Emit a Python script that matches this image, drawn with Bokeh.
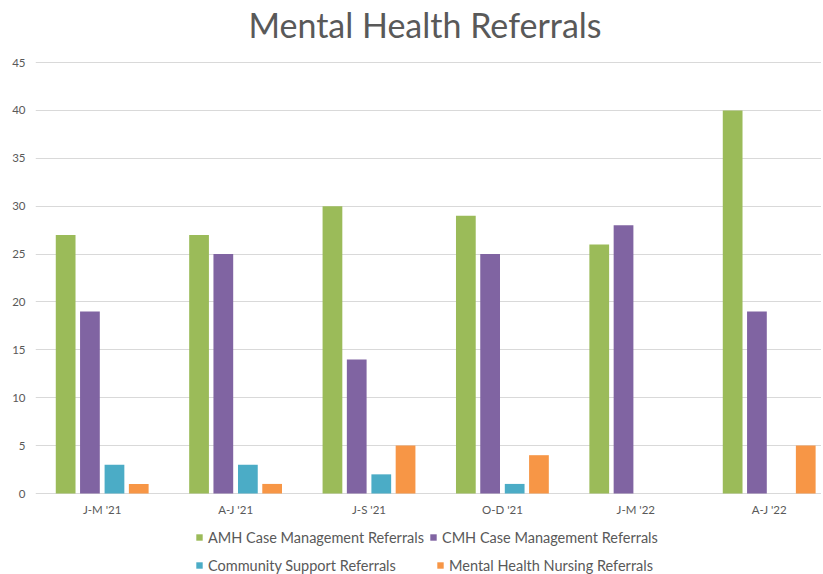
import numpy as np
from bokeh.plotting import figure
from bokeh.models import ColumnDataSource, Legend, LegendItem, Range1d, FixedTicker, Label
from bokeh.transform import dodge
from bokeh.core.properties import value
from bokeh.embed import file_html
from bokeh.resources import INLINE

categories = ["J-M '21", "A-J '21", "J-S '21", "O-D '21", "J-M '22", "A-J '22"]
amh = [27, 27, 30, 29, 26, 40]
cmh = [19, 25, 14, 25, 28, 19]
community = [3, 3, 2, 1, 0, 0]
nursing = [1, 1, 5, 4, 0, 5]
y_ticks = [0, 5, 10, 15, 20, 25, 30, 35, 40, 45]

series_names = ["AMH Case Management Referrals", "CMH Case Management Referrals",
                "Community Support Referrals", "Mental Health Nursing Referrals"]
colors = ["#9BBB59", "#8064A2", "#4BACC6", "#F79646"]
title_text = "Mental Health Referrals"

idx = list(range(len(categories)))
src = ColumnDataSource(dict(idx=idx, cat=categories, amh=amh, cmh=cmh,
                            community=community, nursing=nursing))

FONT = "Lato"
GRAY = "#595959"
FW, FH = 786, 574
CAT_PX = 133.4                     # pixel width of one category slot
PX_PER_UNIT = 431 / 45             # vertical pixels per value unit
ZERO_PX = 493                      # pixel row of value 0 from top

x_range = Range1d(-0.5, -0.5 + FW / CAT_PX)
y_range = Range1d(-(FH - ZERO_PX) / PX_PER_UNIT, ZERO_PX / PX_PER_UNIT)

p = figure(x_range=x_range, y_range=y_range, x_axis_location=None,
           frame_width=FW, frame_height=FH, output_backend="svg", toolbar_location=None,
           min_border_left=35, min_border_right=0, min_border_top=0, min_border_bottom=0)

offsets = [-0.274, -0.092, 0.092, 0.274]
fields = ["amh", "cmh", "community", "nursing"]
renderers = []
for f, off, c in zip(fields, offsets, colors):
    r = p.vbar(x=dodge("idx", off), top=f, width=0.148, source=src,
               fill_color=c, line_color=None)
    renderers.append(r)

# category labels below the zero line
p.text(x="idx", y=-(508.5 - ZERO_PX) / PX_PER_UNIT, text="cat", source=src,
       text_align="center", text_baseline="middle", text_font=value(FONT),
       text_font_size="11.5px", text_color=GRAY)

p.outline_line_color = None
for g in p.xgrid:
    g.visible = False
ticker = FixedTicker(ticks=y_ticks)
p.yaxis.ticker = ticker
p.ygrid.ticker = ticker
p.ygrid.grid_line_color = "#D9D9D9"
p.yaxis.axis_line_color = None
p.yaxis.major_tick_line_color = None
p.yaxis.minor_tick_line_color = None
p.yaxis.major_tick_out = 0
p.yaxis.major_label_standoff = 10
p.yaxis.major_label_text_font = FONT
p.yaxis.major_label_text_font_size = "11.5px"
p.yaxis.major_label_text_color = GRAY

title = Label(x=389.5, y=FH - 24, x_units="screen", y_units="screen", text=title_text,
              text_align="center", text_baseline="middle", text_font=FONT,
              text_font_size="34px", text_color=GRAY)
p.add_layout(title)


def make_legend(items_idx, loc, lw, sp):
    lg = Legend(items=[LegendItem(label=series_names[i], renderers=[renderers[i]]) for i in items_idx],
                orientation="horizontal", location=loc)
    lg.label_text_font = FONT
    lg.label_text_font_size = "14.5px"
    lg.label_text_color = GRAY
    lg.glyph_width = 8
    lg.glyph_height = 8
    lg.label_height = 18
    lg.label_standoff = 5
    lg.label_width = lw
    lg.spacing = sp
    lg.margin = 0
    lg.padding = 0
    lg.border_line_color = None
    lg.background_fill_alpha = 0
    return lg


p.add_layout(make_legend([0, 1], (160, 28), 212, 5))
p.add_layout(make_legend([2, 3], (160, 0), 223, 5))

open("out.html", "w").write(file_html(p, INLINE))
